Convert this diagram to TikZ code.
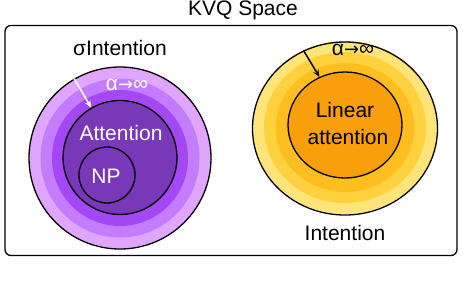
\documentclass[tikz,border=0pt]{standalone}
\usepackage{fontspec}
\setmainfont{Liberation Sans}
\newfontfamily\arrowfont{DejaVu Sans}
\definecolor{violetA}{RGB}{224, 166, 255}
\definecolor{violetB}{RGB}{196, 124, 255}
\definecolor{violetC}{RGB}{164, 72, 246}
\definecolor{violetD}{RGB}{121, 56, 184}
\definecolor{amberA}{RGB}{255, 228, 122}
\definecolor{amberB}{RGB}{255, 209, 62}
\definecolor{amberC}{RGB}{255, 190, 32}
\definecolor{amberD}{RGB}{250, 159, 12}
\usepackage{tikz}
\usetikzlibrary{arrows.meta, positioning, shapes.geometric}
\newcommand{\alphalim}{α{\arrowfont\fontsize{18}{22}\selectfont →}∞}

\begin{document}
\begin{tikzpicture}[x=1pt, y=-1pt,
    lbl/.style={font=\fontsize{21}{25}\selectfont, inner sep=0pt, anchor=base},
    band/.style={circle, inner sep=0pt},
    oband/.style={ellipse, inner sep=0pt},
    rim/.style={draw=black, line width=1.3pt}]
      \useasboundingbox (0,0) rectangle (466,292);
      % Frame of the whole space
      \node[rim, rounded corners=6pt, minimum width=452pt, minimum height=230pt, inner sep=0pt] (space) at (231,140.5) {};
      \node[lbl] (title) at (243,15.5) {KVQ Space};

      % Left: sigma intention rings
      \foreach \d/\c in {182/violetA, 159/violetB, 136/violetC} {
        \node[band, fill=\c, minimum size=\d pt] (ringL\d) at (120,158) {};
      }
      \node[band, rim, minimum size=182pt] (sigma) at (120,158) {};
      \node[band, rim, fill=violetD, minimum size=114pt] (attn) at (120,157.5) {};
      \node[band, rim, minimum size=56pt] (np) at (107,175) {};
      \node[lbl] (sigmalbl) at (120,55.5) {σIntention};
      \node[lbl, white] (alphaL) at (127,90) {\alphalim};
      \node[lbl, white] (attnlbl) at (121,140) {Attention};
      \node[lbl, white] (nplbl) at (106,183) {NP};
      \draw[white, line width=1.5pt, -{Stealth[length=7pt, width=6pt]}] (sigma.120) -- (attn.120);

      % Right: intention rings
      \foreach \w/\h/\c in {185/173/amberA, 162/151/amberB, 139/129/amberC} {
        \node[oband, fill=\c, minimum width=\w pt, minimum height=\h pt] (ringR\w) at (345,127.5) {};
      }
      \node[oband, rim, minimum width=185pt, minimum height=173pt] (intent) at (345,128.5) {};
      \node[oband, rim, fill=amberD, minimum width=114pt, minimum height=106pt] (linear) at (345,125) {};
      \node[lbl] (linlbl) at (345,117) {Linear};
      \node[lbl] (linlbl2) at (348,144) {attention};
      \node[lbl] (alphaR) at (353,55) {\alphalim};
      \node[lbl] (intentlbl) at (345,240) {Intention};
      \draw[black, line width=1.5pt, -{Stealth[length=7pt, width=6pt]}] (intent.118) -- (linear.118);
\end{tikzpicture}
\end{document}
